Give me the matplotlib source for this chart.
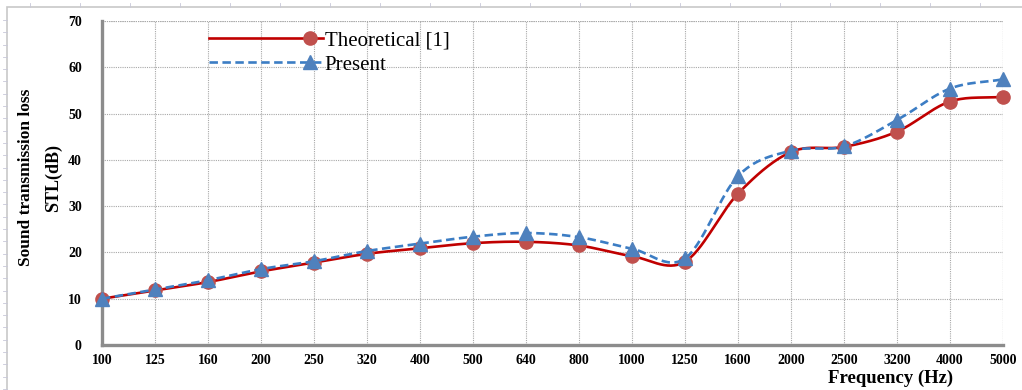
import numpy as np
import matplotlib
matplotlib.use("Agg")
import matplotlib.pyplot as plt
from matplotlib.lines import Line2D
from matplotlib.legend_handler import HandlerLine2D

# ---- data ----
freq_labels = ["100", "125", "160", "200", "250", "320", "400", "500", "640",
               "800", "1000", "1250", "1600", "2000", "2500", "3200", "4000", "5000"]
theoretical = [10.0, 11.8, 13.6, 15.9, 17.8, 19.7, 20.9, 22.0, 22.3,
               21.5, 19.2, 18.0, 32.7, 41.7, 42.8, 46.1, 52.6, 53.6]
present = [10.0, 12.0, 14.0, 16.4, 18.1, 20.3, 21.9, 23.4, 24.2,
           23.3, 20.8, 18.7, 36.5, 42.0, 42.9, 48.6, 55.4, 57.4]
y_ticks = [0, 10, 20, 30, 40, 50, 60, 70]

SERIF = ["Liberation Serif", "DejaVu Serif"]


def smooth(xs, ys, n=30):
    """Catmull-Rom spline through the points (Excel-like smoothed line)."""
    xs = np.asarray(xs, float)
    ys = np.asarray(ys, float)
    px = np.concatenate([[2 * xs[0] - xs[1]], xs, [2 * xs[-1] - xs[-2]]])
    py = np.concatenate([[2 * ys[0] - ys[1]], ys, [2 * ys[-1] - ys[-2]]])
    ox, oy = [], []
    t = np.linspace(0, 1, n, endpoint=False)
    for i in range(1, len(px) - 2):
        for arr, out in ((px, ox), (py, oy)):
            p0, p1, p2, p3 = arr[i - 1], arr[i], arr[i + 1], arr[i + 2]
            out.extend(0.5 * ((2 * p1) + (-p0 + p2) * t
                              + (2 * p0 - 5 * p1 + 4 * p2 - p3) * t ** 2
                              + (-p0 + 3 * p1 - 3 * p2 + p3) * t ** 3))
    ox.append(xs[-1])
    oy.append(ys[-1])
    return np.array(ox), np.array(oy)


class EndMarker(HandlerLine2D):
    def create_artists(self, legend, orig_handle, xdescent, ydescent,
                       width, height, fontsize, trans):
        x0 = -xdescent
        x1 = -xdescent + width
        xm = x1 - 0.6 * fontsize
        y = (height - ydescent) / 2
        line = Line2D([x0, xm, x1], [y, y, y])
        self.update_prop(line, orig_handle, legend)
        line.set_markevery([1])
        line.set_transform(trans)
        return [line]


fig = plt.figure(figsize=(10.22, 3.90), dpi=100)
fig.patch.set_facecolor("white")

# outer frame (screenshot border) with faint ruler ticks
fig.add_artist(plt.Rectangle((7 / 1022, -0.1), 1.2, 1 - 7 / 390 + 0.1,
                             transform=fig.transFigure, fill=False,
                             edgecolor="#C8C8C8", linewidth=1.2))
for xp in range(30, 1022, 50):
    fig.add_artist(Line2D([xp / 1022, xp / 1022], [1 - 3 / 390, 1 - 7 / 390],
                          transform=fig.transFigure, color="#C8C8D8", lw=0.6))
for yp in np.arange(20, 390, 12.3):
    fig.add_artist(Line2D([3 / 1022, 7 / 1022], [1 - yp / 390, 1 - yp / 390],
                          transform=fig.transFigure, color="#C8C8D8", lw=0.6))

ax = fig.add_axes([102 / 1022, 1 - 345 / 390, (1003 - 102) / 1022, (345 - 21) / 390])
x = np.arange(len(freq_labels))

red_line = "#C00000"
red_mark = "#C0504D"
blue_line = "#3C7DC4"
blue_mark = "#4F81BD"

sx, sy = smooth(x, theoretical)
ax.plot(sx, sy, color=red_line, lw=1.9, zorder=3, clip_on=False)
ax.plot(x, theoretical, ls="none", marker="o", ms=9.5, color=red_mark,
        zorder=4, clip_on=False)
h1 = Line2D([], [], color=red_line, lw=1.9, marker="o", ms=9.5,
            markerfacecolor=red_mark, markeredgecolor=red_mark)

sx2, sy2 = smooth(x, present)
ax.plot(sx2, sy2, color=blue_line, lw=1.9, ls=(0, (3.2, 1.7)), zorder=5, clip_on=False)
ax.plot(x, present, ls="none", marker="^", ms=10, color=blue_mark,
        zorder=6, clip_on=False)
h2 = Line2D([], [], color=blue_line, lw=1.9, ls=(0, (3.2, 1.7)), marker="^", ms=10,
            markerfacecolor=blue_mark, markeredgecolor=blue_mark)

ax.set_xlim(0, len(freq_labels) - 1)
ax.set_ylim(0, 70)
ax.set_xticks(x)
ax.set_xticklabels(freq_labels)
ax.set_yticks(y_ticks)
ax.tick_params(axis="both", length=0, labelsize=10)
ax.tick_params(axis="y", pad=14.5)
ax.tick_params(axis="x", pad=6.5)
for lab in ax.get_xticklabels() + ax.get_yticklabels():
    lab.set_fontfamily(SERIF)
    lab.set_fontweight("bold")

ax.grid(True, color="#A8A8A8", ls=(0, (1, 1)), lw=0.8)
ax.set_axisbelow(True)
for s in ("top", "right"):
    ax.spines[s].set_visible(False)
for s in ("left", "bottom"):
    ax.spines[s].set_color("#8C8C8C")
    ax.spines[s].set_linewidth(2.4)
    ax.spines[s].set_zorder(2)

# top and right dotted lines (gridlines at limits)
ax.axhline(70, color="#A8A8A8", ls=(0, (1, 1)), lw=0.8, zorder=0)
ax.axvline(len(freq_labels) - 1, color="#A8A8A8", ls=(0, (1, 1)), lw=0.8, zorder=0)

ax.set_xlabel("Frequency (Hz)", fontfamily=SERIF, fontweight="bold", fontsize=13.5)
ax.xaxis.set_label_coords((891 - 102) / 901, -(378 - 345) / 324)
ax.xaxis.label.set_va("center")

fig.text(26 / 1022, 1 - 177 / 390, "Sound transmission loss", rotation=90,
         fontfamily=SERIF, fontweight="bold", fontsize=12.5, ha="center", va="center")
fig.text(53 / 1022, 1 - 178 / 390, "STL(dB)", rotation=90,
         fontfamily=SERIF, fontweight="bold", fontsize=13, ha="center", va="center")

leg = ax.legend([h1, h2], ["Theoretical [1]", "Present"],
                handler_map={Line2D: EndMarker()},
                loc="upper left", bbox_to_anchor=((209 - 102) / 901, 1 - (31 - 21) / 324),
                frameon=False, prop={"family": SERIF, "size": 15},
                handlelength=5.45, handletextpad=0.1, labelspacing=0.22,
                borderaxespad=0, borderpad=0)
leg.set_zorder(10)

fig.savefig("out.png", dpi=100, facecolor="white")
